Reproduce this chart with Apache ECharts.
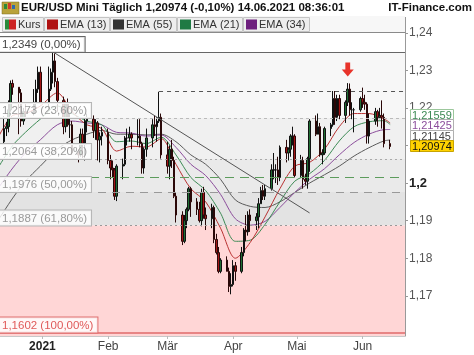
<!DOCTYPE html>
<html><head><meta charset="utf-8">
<script src="https://cdn.jsdelivr.net/npm/echarts@6/dist/echarts.min.js"></script>
<style>html,body{margin:0;padding:0;background:#fff}#c{width:474px;height:355px}</style>
</head><body><div id="c"></div>
<script>
// ---------- data ----------
const dates = [
'2020-12-11','2020-12-14','2020-12-15','2020-12-16','2020-12-17','2020-12-18','2020-12-21','2020-12-22','2020-12-23','2020-12-24','2020-12-28','2020-12-29','2020-12-30','2020-12-31',
'2021-01-04','2021-01-05','2021-01-06','2021-01-07','2021-01-08','2021-01-11','2021-01-12','2021-01-13','2021-01-14','2021-01-15','2021-01-18','2021-01-19','2021-01-20','2021-01-21','2021-01-22','2021-01-25','2021-01-26','2021-01-27','2021-01-28','2021-01-29',
'2021-02-01','2021-02-02','2021-02-03','2021-02-04','2021-02-05','2021-02-08','2021-02-09','2021-02-10','2021-02-11','2021-02-12','2021-02-15','2021-02-16','2021-02-17','2021-02-18','2021-02-19','2021-02-22','2021-02-23','2021-02-24','2021-02-25','2021-02-26',
'2021-03-01','2021-03-02','2021-03-03','2021-03-04','2021-03-05','2021-03-08','2021-03-09','2021-03-10','2021-03-11','2021-03-12','2021-03-15','2021-03-16','2021-03-17','2021-03-18','2021-03-19','2021-03-22','2021-03-23','2021-03-24','2021-03-25','2021-03-26','2021-03-29','2021-03-30','2021-03-31',
'2021-04-01','2021-04-02','2021-04-05','2021-04-06','2021-04-07','2021-04-08','2021-04-09','2021-04-12','2021-04-13','2021-04-14','2021-04-15','2021-04-16','2021-04-19','2021-04-20','2021-04-21','2021-04-22','2021-04-23','2021-04-26','2021-04-27','2021-04-28','2021-04-29','2021-04-30',
'2021-05-03','2021-05-04','2021-05-05','2021-05-06','2021-05-07','2021-05-10','2021-05-11','2021-05-12','2021-05-13','2021-05-14','2021-05-17','2021-05-18','2021-05-19','2021-05-20','2021-05-21','2021-05-24','2021-05-25','2021-05-26','2021-05-27','2021-05-28','2021-05-31',
'2021-06-01','2021-06-02','2021-06-03','2021-06-04','2021-06-07','2021-06-08','2021-06-09','2021-06-10','2021-06-11','2021-06-14'];
const opens = [
1.2135,1.2110,1.2145,1.2150,1.2195,1.2265,1.2255,1.2240,1.2165,1.2190,1.2185,1.2215,1.2250,1.2295,
1.2215,1.2250,1.2295,1.2325,1.2270,1.2220,1.2150,1.2210,1.2155,1.2155,1.2080,1.2075,1.2130,1.2105,1.2165,1.2170,1.2140,1.2160,1.2115,1.2125,
1.2135,1.2060,1.2040,1.2035,1.1965,1.2045,1.2050,1.2120,1.2120,1.2130,1.2120,1.2125,1.2105,1.2040,1.2090,1.2120,1.2155,1.2150,1.2165,1.2175,
1.2075,1.2045,1.2090,1.2060,1.1965,1.1915,1.1845,1.1900,1.1930,1.1985,1.1950,1.1930,1.1900,1.1975,1.1915,1.1905,1.1935,1.1850,1.1815,1.1765,1.1795,1.1765,1.1725,
1.1730,1.1780,1.1765,1.1815,1.1875,1.1870,1.1915,1.1900,1.1910,1.1945,1.1980,1.1965,1.1985,1.2035,1.2035,1.2035,1.2015,1.2095,1.2080,1.2090,1.2125,1.2125,
1.2020,1.2060,1.2010,1.2005,1.2065,1.2165,1.2130,1.2150,1.2075,1.2080,1.2145,1.2155,1.2225,1.2175,1.2225,1.2180,1.2215,1.2250,1.2195,1.2195,1.2195,
1.2225,1.2215,1.2210,1.2125,1.2165,1.2190,1.2175,1.2180,1.2175,1.2105];
const closes = [
1.2110,1.2145,1.2150,1.2195,1.2265,1.2255,1.2240,1.2165,1.2190,1.2185,1.2215,1.2250,1.2295,1.2215,
1.2250,1.2295,1.2325,1.2270,1.2220,1.2150,1.2210,1.2155,1.2155,1.2080,1.2075,1.2130,1.2105,1.2165,1.2170,1.2140,1.2160,1.2115,1.2125,1.2135,
1.2060,1.2040,1.2035,1.1965,1.2045,1.2050,1.2120,1.2120,1.2130,1.2120,1.2125,1.2105,1.2040,1.2090,1.2120,1.2155,1.2150,1.2165,1.2175,1.2075,
1.2045,1.2090,1.2060,1.1965,1.1915,1.1845,1.1900,1.1930,1.1985,1.1950,1.1930,1.1900,1.1975,1.1915,1.1905,1.1935,1.1850,1.1815,1.1765,1.1795,1.1765,1.1725,1.1730,
1.1780,1.1765,1.1815,1.1875,1.1870,1.1915,1.1900,1.1910,1.1945,1.1980,1.1965,1.1985,1.2035,1.2035,1.2035,1.2015,1.2095,1.2080,1.2090,1.2125,1.2125,1.2020,
1.2060,1.2010,1.2005,1.2065,1.2165,1.2130,1.2150,1.2075,1.2080,1.2145,1.2155,1.2225,1.2175,1.2225,1.2180,1.2215,1.2250,1.2195,1.2195,1.2195,1.2225,
1.2215,1.2210,1.2125,1.2165,1.2190,1.2175,1.2180,1.2175,1.2105,1.20974];
const lows = [
1.2085,1.2105,1.2125,1.2135,1.2190,1.2235,1.2130,1.2150,1.2155,1.2170,1.2180,1.2205,1.2240,1.2210,
1.2195,1.2245,1.2265,1.2255,1.2190,1.2130,1.2135,1.2150,1.2120,1.2075,1.2055,1.2070,1.2065,1.2060,1.2135,1.2120,1.2115,1.2060,1.2055,1.2100,
1.2050,1.2010,1.2015,1.1955,1.1952,1.2010,1.2045,1.2100,1.2110,1.2090,1.2100,1.2095,1.2025,1.2025,1.2070,1.2095,1.2125,1.2110,1.2160,1.2065,
1.2025,1.2010,1.2040,1.1960,1.1895,1.1835,1.1840,1.1880,1.1925,1.1910,1.1915,1.1895,1.1885,1.1905,1.1875,1.1880,1.1840,1.1810,1.1760,1.1760,1.1765,1.1710,1.1704,
1.1725,1.1740,1.1760,1.1805,1.1845,1.1860,1.1870,1.1875,1.1880,1.1945,1.1955,1.1955,1.1980,1.2010,1.2000,1.1995,1.2005,1.2055,1.2060,1.2070,1.2100,1.2015,
1.2015,1.1985,1.1995,1.1985,1.2030,1.2125,1.2130,1.2070,1.2050,1.2075,1.2125,1.2150,1.2155,1.2165,1.2170,1.2160,1.2205,1.2180,1.2170,1.2135,1.2190,
1.2200,1.2195,1.2105,1.2105,1.2155,1.2150,1.2170,1.2145,1.2095,1.2090];
const highs = [
1.2165,1.2178,1.2163,1.2220,1.2273,1.2275,1.2255,1.2250,1.2200,1.2210,1.2250,1.2275,1.2310,1.2310,
1.2310,1.2305,1.2349,1.2345,1.2280,1.2230,1.2215,1.2225,1.2185,1.2165,1.2090,1.2145,1.2145,1.2175,1.2185,1.2180,1.2170,1.2165,1.2135,1.2150,
1.2145,1.2075,1.2060,1.2040,1.2050,1.2065,1.2125,1.2145,1.2150,1.2135,1.2170,1.2170,1.2110,1.2095,1.2145,1.2170,1.2180,1.2175,1.2243,1.2185,
1.2110,1.2100,1.2115,1.2070,1.1975,1.1925,1.1915,1.1935,1.1990,1.1990,1.1960,1.1950,1.1985,1.1990,1.1935,1.1945,1.1940,1.1865,1.1830,1.1800,1.1805,1.1775,1.1760,
1.1795,1.1790,1.1830,1.1880,1.1915,1.1925,1.1930,1.1920,1.1960,1.1990,1.1995,1.1995,1.2050,1.2080,1.2050,1.2070,1.2100,1.2115,1.2095,1.2130,1.2150,1.2130,
1.2075,1.2070,1.2025,1.2070,1.2170,1.2180,1.2185,1.2160,1.2090,1.2150,1.2160,1.2245,1.2245,1.2235,1.2235,1.2220,1.2266,1.2265,1.2215,1.2200,1.2230,
1.2254,1.2235,1.2215,1.2185,1.2200,1.2195,1.2200,1.2220,1.2185,1.2115];

const emaDates = ['2020-12-11','2020-12-18','2020-12-24','2020-12-31','2021-01-08','2021-01-15','2021-01-22','2021-01-29','2021-02-05','2021-02-12','2021-02-19','2021-02-26','2021-03-05','2021-03-12','2021-03-19','2021-03-26','2021-04-02','2021-04-09','2021-04-16','2021-04-23','2021-04-30','2021-05-07','2021-05-14','2021-05-21','2021-05-28','2021-06-04','2021-06-11','2021-06-14'];
const ema13 = [1.2120,1.2180,1.2185,1.2205,1.2240,1.2190,1.2155,1.2145,1.2085,1.2098,1.2096,1.2118,1.2050,1.1985,1.1950,1.1880,1.1800,1.1842,1.1910,1.1985,1.2045,1.2055,1.2090,1.2150,1.2185,1.2185,1.2171,1.2160];
const ema21 = [1.2040,1.2100,1.2135,1.2170,1.2205,1.2185,1.2165,1.2155,1.2110,1.2112,1.2105,1.2122,1.2075,1.2015,1.1980,1.1920,1.1845,1.1848,1.1890,1.1950,1.2005,1.2025,1.2060,1.2112,1.2150,1.2163,1.2166,1.21559];
const ema34 = [1.1985,1.2040,1.2080,1.2115,1.2155,1.2165,1.2160,1.2155,1.2135,1.2133,1.2125,1.2128,1.2095,1.2050,1.2020,1.1970,1.1905,1.1888,1.1898,1.1935,1.1975,1.2010,1.2038,1.2075,1.2108,1.2130,1.2142,1.21425];
const ema55 = [1.1900,1.1960,1.2005,1.2045,1.2090,1.2115,1.2130,1.2140,1.2130,1.2130,1.2128,1.2130,1.2110,1.2075,1.2050,1.2010,1.1955,1.1938,1.1935,1.1950,1.1975,1.2000,1.2022,1.2045,1.2072,1.2094,1.2112,1.21145];

const fibValues = [1.2349, 1.2173, 1.2064, 1.1976, 1.1887, 1.1602];
const fibPercents = ['0,00%', '23,60%', '38,20%', '50,00%', '61,80%', '100,00%'];
const supportLevel = 1.2016;
const resistance = {from: '2021-02-25', value: 1.2243};
const trendLine = [['2021-01-06', 1.2349], ['2021-05-07', 1.19205]];
const arrowPoint = ['2021-05-25', 1.2302];

const yTicks = [1.17, 1.18, 1.19, 1.20, 1.21, 1.22, 1.23, 1.24];
const xTickDates = ['2021-01-01', '2021-02-01', '2021-03-01', '2021-04-01', '2021-05-01', '2021-06-01'];
const xTickLabels = ['2021', 'Feb', 'Mär', 'Apr', 'Mai', 'Jun'];
const legendNames = ['Kurs', 'EMA (13)', 'EMA (55)', 'EMA (21)', 'EMA (34)'];
const titleText = 'EUR/USD Mini Täglich 1,20974 (-0,10%) 14.06.2021 08:36:01';

// ---------- helpers ----------
const FONT = '"Liberation Sans", Arial, Helvetica, sans-serif';
function ts(s){const p=s.split('-').map(Number);return new Date(p[0],p[1]-1,p[2]).getTime();}
function fmt(v,d){return v.toFixed(d).replace('.',',');}
const xMin = ts('2020-12-12'), xMax = ts('2021-06-21');
const xTickVals = xTickDates.map(ts);

const candleData = dates.map((d,i)=>[ts(d), opens[i], closes[i], lows[i], highs[i]]);
const toLine = arr => emaDates.map((d,i)=>[ts(d), arr[i]]);

const C = {ema13:'#b83232', ema21:'#3d8a55', ema34:'#8b4d9b', ema55:'#5a5a5a'};

const fibLine = [
  {color:'#666', type:'solid', width:1},
  {color:'#bbb', type:[3,3], width:1},
  {color:'#aaa', type:[2,3], width:1},
  {color:'#999', type:[8,6], width:1},
  {color:'#999', type:[2,3], width:1},
  {color:'#e06a6a', type:'solid', width:1.5}
];
const fibText = ['#444','#9a9a9a','#9a9a9a','#9a9a9a','#9a9a9a','#e05a5a'];
const fibBorder = ['#666','#b5b5b5','#b5b5b5','#b5b5b5','#b5b5b5','#e07070'];

const markLineData = fibValues.map((v,i)=>({
  yAxis: v,
  lineStyle: fibLine[i],
  label: {show:true, position:'insideStartTop', distance:[-2,0], formatter: fmt(v,4)+' ('+fibPercents[i]+')',
    color: fibText[i], fontSize: 11.5, fontFamily: FONT,
    backgroundColor:'rgba(255,255,255,0.82)', borderColor: fibBorder[i], borderWidth:1, padding:[2,4,1,4]}
}));
markLineData.push({yAxis: supportLevel, lineStyle:{color:'#5c9c5c', type:[9,6], width:1}, label:{show:false}});
markLineData.push([{coord:[ts(resistance.from), resistance.value], lineStyle:{color:'#555', type:[4,4], width:1}},{coord:[xMax, resistance.value]}]);
markLineData.push([{coord:[ts(trendLine[0][0]), trendLine[0][1]], lineStyle:{color:'#555', type:'solid', width:1}},{coord:[ts(trendLine[1][0]), trendLine[1][1]]}]);

const zones = [
  [fibValues[0], fibValues[1], '#f7f7f7'],
  [fibValues[1], fibValues[2], '#f0f0f0'],
  [fibValues[2], fibValues[3], '#eaeaea'],
  [fibValues[3], fibValues[4], '#e3e3e3'],
  [fibValues[4], 1.1593, '#ffd6d6']
];

const chart = echarts.init(document.getElementById('c'), null, {renderer:'canvas'});
const option = {
  animation:false,
  backgroundColor:'#fff',
  grid:{left:0, right:69, top:32, bottom:19, show:false},
  xAxis:{type:'value', min:xMin, max:xMax,
    axisLine:{show:true, lineStyle:{color:'#c8c8c8'}},
    axisTick:{show:true, length:3, customValues:xTickVals, lineStyle:{color:'#bbb'}},
    axisLabel:{customValues:xTickVals, margin:5, color:'#444', fontSize:12, fontFamily:FONT,
      formatter:(v)=>{const i = xTickVals.indexOf(v); const t = i>=0 ? xTickLabels[i] : ''; return i===0 ? '{b|'+t+'}' : t;},
      rich:{b:{fontWeight:'bold', color:'#222', fontSize:12, fontFamily:FONT}}},
    splitLine:{show:false}},
  yAxis:{type:'value', position:'right', min:1.1593, max:1.2402, scale:true,
    axisLine:{show:true, lineStyle:{color:'#999'}},
    axisTick:{show:true, length:3, customValues:yTicks, lineStyle:{color:'#999'}},
    axisLabel:{customValues:yTicks, margin:4, color:'#555', fontSize:12, fontFamily:FONT,
      formatter:(v)=>{const r=Math.round(v*100)/100; const s=String(r).replace('.',','); return Math.abs(r-1.2)<1e-9 ? '{b|'+s+'}' : s;},
      rich:{b:{fontWeight:'bold', color:'#222', fontSize:13, fontFamily:FONT}}},
    splitLine:{show:false}},
  series:[
    {type:'line', name:'EMA (55)', data:toLine(ema55), smooth:0.3, symbol:'none', z:2, lineStyle:{color:C.ema55, width:1}},
    {type:'line', name:'EMA (34)', data:toLine(ema34), smooth:0.3, symbol:'none', z:2, lineStyle:{color:C.ema34, width:1}},
    {type:'line', name:'EMA (21)', data:toLine(ema21), smooth:0.3, symbol:'none', z:2, lineStyle:{color:C.ema21, width:1}},
    {type:'line', name:'EMA (13)', data:toLine(ema13), smooth:0.3, symbol:'none', z:2, lineStyle:{color:C.ema13, width:1}},
    {type:'candlestick', name:'Kurs', data:candleData, barWidth:2, z:3,
      itemStyle:{color:'#1f6e33', color0:'#a31515', borderColor:'#111', borderColor0:'#2a0808', borderWidth:1},
      markArea:{silent:true, data: zones.map(z=>[{yAxis:z[0], itemStyle:{color:z[2]}},{yAxis:z[1]}])},
      markLine:{silent:true, precision:5, symbol:['none','none'], animation:false, label:{show:false}, data: markLineData},
      markPoint:{silent:true, data:[{coord:[ts(arrowPoint[0]), arrowPoint[1]], symbol:'path://M3,0L7,0L7,5L10,5L5,10L0,5L3,5Z', symbolSize:[12,14], symbolKeepAspect:false, itemStyle:{color:'#e8332a'}, label:{show:false}}]}
    }
  ]
};
chart.setOption(option);

// ---------- graphics (title, legend, price labels) ----------
const g = [];
g.push({type:'rect', shape:{x:2,y:2,width:17,height:12}, style:{fill:'#b9a23a', stroke:'#7a6a20', lineWidth:0.5}, silent:true});
g.push({type:'rect', shape:{x:4,y:4,width:3,height:5}, style:{fill:'#2f8a3a'}, silent:true});
g.push({type:'rect', shape:{x:8,y:3,width:3,height:6}, style:{fill:'#d23c2c'}, silent:true});
g.push({type:'rect', shape:{x:12,y:5,width:3,height:4}, style:{fill:'#2f6ab0'}, silent:true});
g.push({type:'text', x:21, y:8, style:{text:titleText, font:'bold 11.5px '+FONT, fill:'#111', verticalAlign:'middle'}, silent:true});
g.push({type:'text', x:472, y:8, style:{text:'IT-Finance.com', font:'bold 11.5px '+FONT, fill:'#111', align:'right', verticalAlign:'middle'}, silent:true});
g.push({type:'rect', shape:{x:0,y:16,width:405,height:16}, style:{fill:'#f7f7f7'}, silent:true});
const lx = [2, 44, 110, 177, 243], lw = [41, 65, 66, 65, 66];
const lcol = [null, '#b01212', '#333333', '#1f7a44', '#6e1f7e'];
legendNames.forEach((n,i)=>{
  g.push({type:'rect', shape:{x:lx[i]+0.5,y:17.5,width:lw[i],height:14}, style:{fill:'#eeeeee', stroke:'#c4c4c4', lineWidth:1}, silent:true});
  if(i===0){
    g.push({type:'rect', shape:{x:lx[i]+3,y:19.5,width:4,height:10}, style:{fill:'#2a8a3a'}, silent:true});
    g.push({type:'rect', shape:{x:lx[i]+7,y:19.5,width:7,height:10}, style:{fill:'#cc2222'}, silent:true});
  } else {
    g.push({type:'rect', shape:{x:lx[i]+3,y:19.5,width:11,height:10}, style:{fill:lcol[i]}, silent:true});
  }
  g.push({type:'text', x:lx[i]+16, y:24.8, style:{text:n, font:'11px '+FONT, fill:'#333', verticalAlign:'middle'}, silent:true});
});
g.push({type:'line', shape:{x1:0,y1:32.5,x2:405,y2:32.5}, style:{stroke:'#8a8a8a', lineWidth:1}, silent:true});
g.push({type:'line', shape:{x1:405.5,y1:17,x2:405.5,y2:33}, style:{stroke:'#999', lineWidth:1}, silent:true});
g.push({type:'text', x:2, y:333, style:{text:'@IT-Finance.com', font:'9px '+FONT, fill:'#333', verticalAlign:'middle'}, silent:true});

const last = a => a[a.length-1];
const priceLabels = [
  {v:last(closes), fill:'#ffd200', stroke:'#c8a400', color:'#111'},
  {v:last(ema55), fill:'#ffffff', stroke:'#b0b0b0', color:'#444'},
  {v:last(ema34), fill:'#ffffff', stroke:'#b0b0b0', color:'#8b4d9b'},
  {v:last(ema21), fill:'#ffffff', stroke:'#9cc79c', color:'#3d8a55'}
];
let prevY = null;
const placed = priceLabels.map(p=>{
  let y = chart.convertToPixel({yAxisIndex:0}, p.v);
  if(prevY!==null) y = Math.min(y, prevY - 10.5);
  prevY = y;
  return Object.assign({y}, p);
});
placed.slice().reverse().forEach(p=>{
  g.push({type:'rect', shape:{x:410.5,y:Math.round(p.y)-5.5,width:43,height:11}, style:{fill:p.fill, stroke:p.stroke, lineWidth:1}, silent:true, z:200});
  g.push({type:'text', x:412, y:Math.round(p.y)+0.5, style:{text:fmt(p.v,5), font:'11px '+FONT, fill:p.color, verticalAlign:'middle'}, silent:true, z:201});
});
chart.setOption({graphic: g});
</script>
</body></html>
